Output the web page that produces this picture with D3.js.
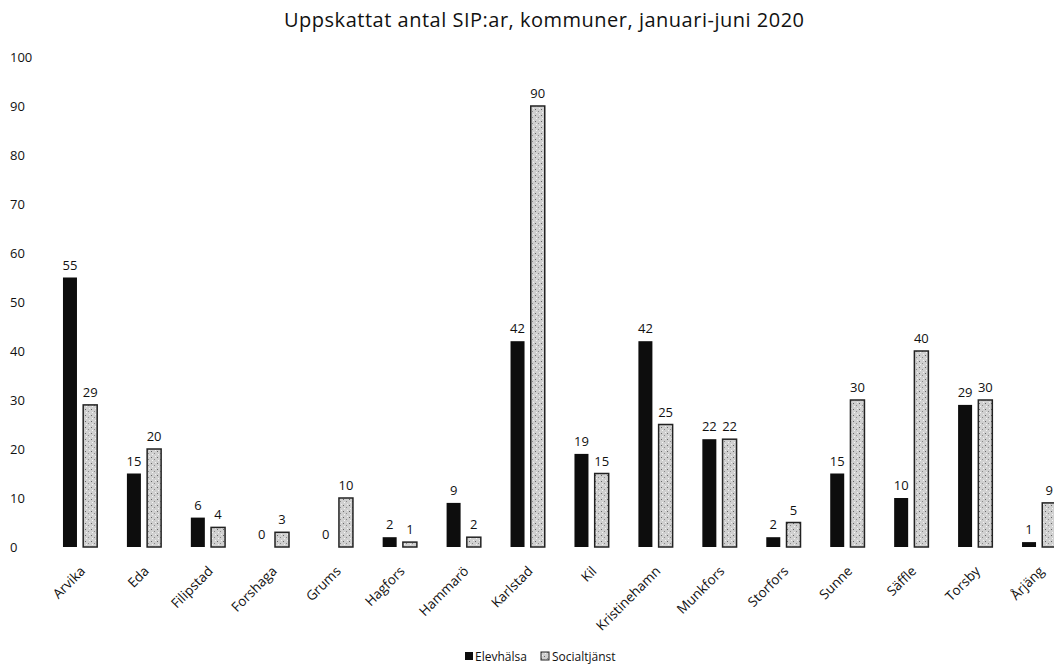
<!DOCTYPE html>
<html><head><meta charset="utf-8">
<script src="https://cdn.jsdelivr.net/npm/d3@7"></script>
<style>body{margin:0;background:#fff;} svg{display:block;}</style>
</head><body>
<script>
const categories = ["Arvika","Eda","Filipstad","Forshaga","Grums","Hagfors","Hammarö","Karlstad","Kil","Kristinehamn","Munkfors","Storfors","Sunne","Säffle","Torsby","Årjäng"];
const elevhalsa = [55,15,6,0,0,2,9,42,19,42,22,2,15,10,29,1];
const socialtjanst = [29,20,4,3,10,1,2,90,15,25,22,5,30,40,30,9];
const yTicks = [0,10,20,30,40,50,60,70,80,90,100];
const seriesNames = ["Elevhälsa","Socialtjänst"];
const title = "Uppskattat antal SIP:ar, kommuner, januari-juni 2020";

const W=1054,H=665;
const font="'Open Sans', 'DejaVu Sans', sans-serif";
const svg=d3.select("body").append("svg").attr("width",W).attr("height",H);
const defs=svg.append("defs");
const pat=defs.append("pattern").attr("id","grain").attr("width",6).attr("height",6).attr("patternUnits","userSpaceOnUse");
pat.append("rect").attr("width",6).attr("height",6).attr("fill","#d0d0d0");
pat.append("rect").attr("x",1).attr("y",1).attr("width",1).attr("height",1).attr("fill","#666");
pat.append("rect").attr("x",4).attr("y",3).attr("width",1).attr("height",1).attr("fill","#888");
pat.append("rect").attr("x",2).attr("y",4).attr("width",1).attr("height",1).attr("fill","#f4f4f4");
pat.append("rect").attr("x",5).attr("y",0).attr("width",1).attr("height",1).attr("fill","#f0f0f0");

const y=d3.scaleLinear().domain([0,100]).range([547,57]);
const x=d3.scaleBand().domain(categories).range([49,1072]).paddingInner(0).paddingOuter(0);
const sub=d3.scaleBand().domain(seriesNames).range([0,36]).paddingInner(0.22);
const bw=14;

svg.append("text").attr("x",544).attr("y",27).attr("text-anchor","middle")
  .attr("font-family",font).attr("font-size",20).attr("fill","#111")
  .attr("textLength",520).attr("lengthAdjust","spacing").text(title);

const yAxis=svg.append("g").attr("transform","translate(10,0)")
  .call(d3.axisLeft(y).tickValues(yTicks).tickSize(0).tickPadding(0));
yAxis.select(".domain").remove();
yAxis.selectAll("text").attr("text-anchor","start").attr("x",0)
  .attr("font-family",font).attr("font-size",13).attr("fill","#111");

const data=categories.map((c,i)=>({c,vals:[elevhalsa[i],socialtjanst[i]]}));
const g=svg.append("g");
data.forEach(d=>{
  const cx=x(d.c)+x.bandwidth()/2;
  d.vals.forEach((v,j)=>{
    const bx=cx-18+sub(seriesNames[j]);
    const h=y(0)-y(v);
    if(h>0){
      g.append("rect").attr("x",bx).attr("y",y(v)).attr("width",bw).attr("height",h)
        .attr("fill",j===0?"#0d0d0d":"url(#grain)")
        .attr("stroke",j===0?"none":"#222").attr("stroke-width",1.5);
    }
    g.append("text").attr("x",bx+bw/2).attr("y",y(v)-8).attr("text-anchor","middle")
      .attr("font-family",font).attr("font-size",13).attr("fill","#111").text(v);
  });
});

const xAxis=svg.append("g").attr("transform","translate(0,547)")
  .call(d3.axisBottom(x).tickSize(0).tickPadding(0));
xAxis.select(".domain").remove();
xAxis.selectAll("text").attr("text-anchor","end").attr("dy",0)
  .attr("transform","translate(5,25) rotate(-45)")
  .attr("font-family",font).attr("font-size",13.5).attr("fill","#111");

const leg=svg.append("g").attr("transform","translate(465,661)");
leg.append("rect").attr("x",0).attr("y",-9).attr("width",8).attr("height",8).attr("fill","#0d0d0d");
leg.append("text").attr("x",10).attr("y",0).attr("font-family",font).attr("font-size",12).attr("fill","#111").text(seriesNames[0]);
leg.append("rect").attr("x",76).attr("y",-9).attr("width",8).attr("height",8).attr("fill","url(#grain)").attr("stroke","#222").attr("stroke-width",1);
leg.append("text").attr("x",87).attr("y",0).attr("font-family",font).attr("font-size",12).attr("fill","#111").text(seriesNames[1]);
</script>
</body></html>
